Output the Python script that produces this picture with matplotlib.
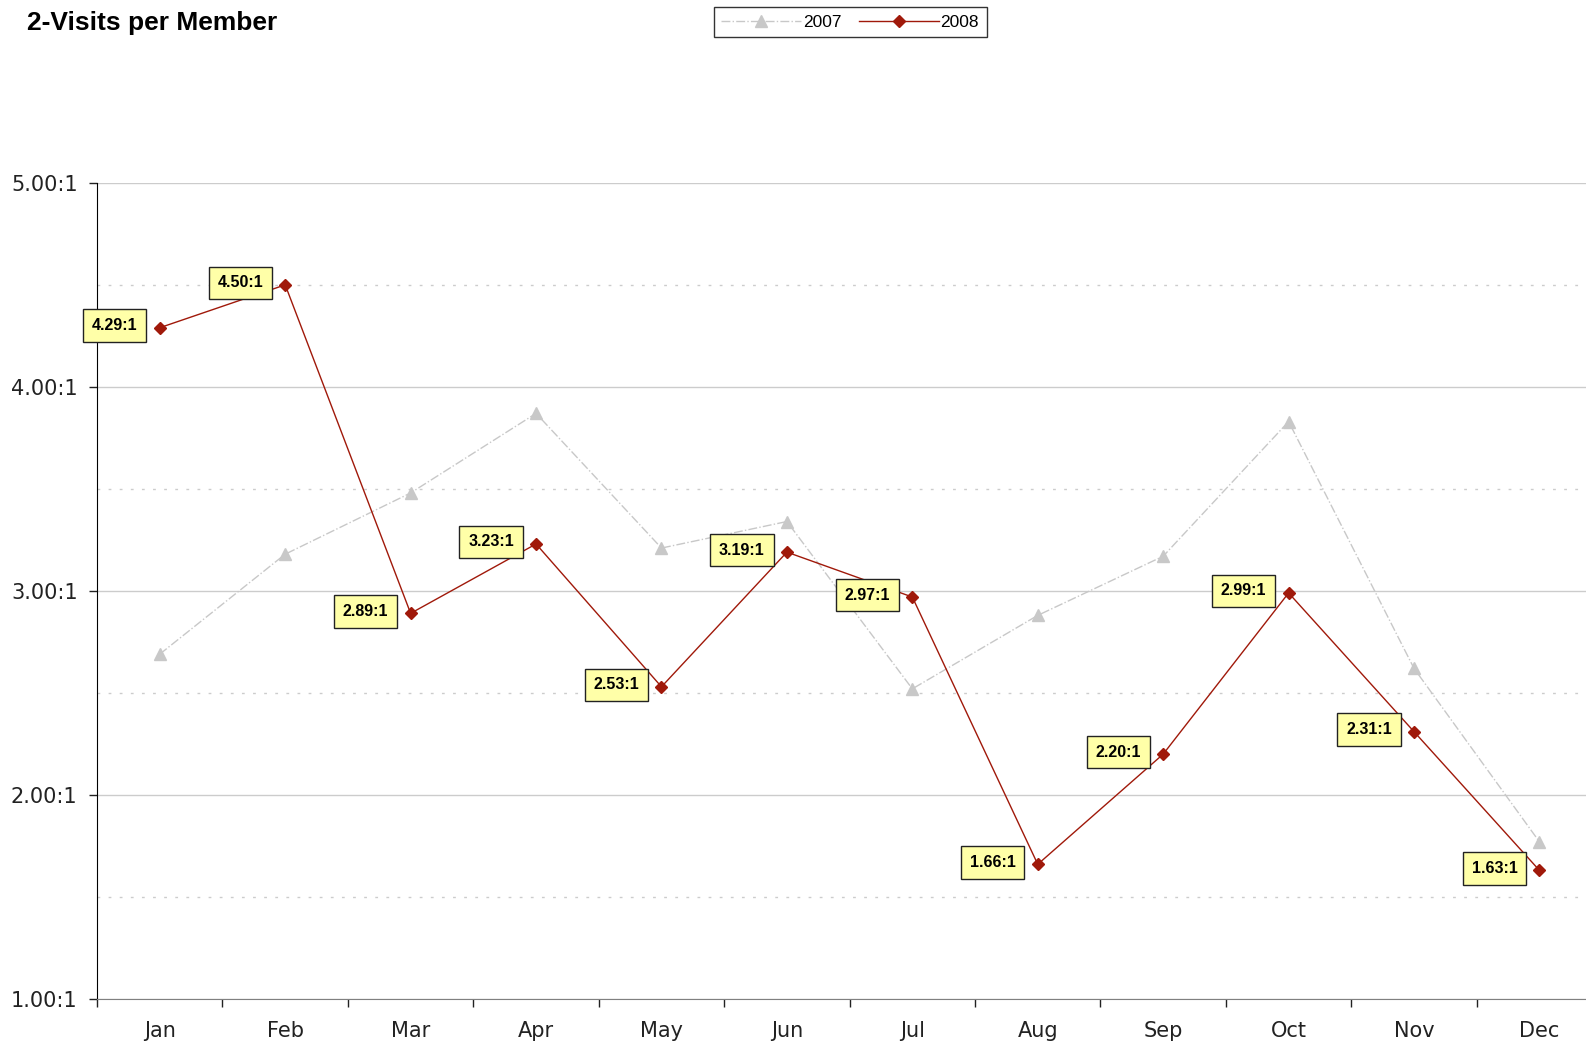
import matplotlib
matplotlib.use("Agg")
import matplotlib.pyplot as plt
from matplotlib.ticker import FixedLocator

months = ["Jan", "Feb", "Mar", "Apr", "May", "Jun", "Jul", "Aug", "Sep", "Oct", "Nov", "Dec"]
v2007 = [2.69, 3.18, 3.48, 3.87, 3.21, 3.34, 2.52, 2.88, 3.17, 3.83, 2.62, 1.77]
v2008 = [4.29, 4.50, 2.89, 3.23, 2.53, 3.19, 2.97, 1.66, 2.20, 2.99, 2.31, 1.63]
yticks = [1, 2, 3, 4, 5]
ytick_labels = ["1.00:1", "2.00:1", "3.00:1", "4.00:1", "5.00:1"]

fig = plt.figure(figsize=(15.86, 10.49), dpi=100)
ax = fig.add_axes([0.0612, 0.0477, 0.949, 0.778])

x = list(range(len(months)))
ax.plot(x, v2007, color="#C8C8C8", linestyle="-.", linewidth=1.0,
        marker="^", markersize=8, markerfacecolor="#C8C8C8", markeredgecolor="#C8C8C8",
        label="2007", zorder=3)
ax.plot(x, v2008, color="#A0190A", linestyle="-", linewidth=1.0,
        marker="D", markersize=6.5, markerfacecolor="#A0190A", markeredgecolor="#A0190A",
        label="2008", zorder=4)

for xi, v in zip(x, v2008):
    ax.annotate(f"{v:.2f}:1", xy=(xi, v), xytext=(-45, 2), textcoords="offset pixels",
                ha="center", va="center", fontsize=11.5, fontweight="bold",
                family="Liberation Sans",
                bbox=dict(boxstyle="square,pad=0.55", facecolor="#FFFFA8",
                          edgecolor="#222222", linewidth=1.0),
                zorder=6)

ax.set_xlim(-0.5, 11.5)
ax.set_ylim(1, 5)
ax.set_yticks(yticks)
ax.set_yticklabels(ytick_labels)
ax.yaxis.set_minor_locator(FixedLocator([1.5, 2.5, 3.5, 4.5]))
ax.grid(axis="y", which="major", color="#CCCCCC", linewidth=1.0, linestyle="-", zorder=0)
ax.grid(axis="y", which="minor", color="#CCCCCC", linewidth=1.0, linestyle=(0, (2, 6)), zorder=0)
ax.tick_params(axis="y", which="minor", length=0)
ax.tick_params(axis="y", which="major", length=6, width=1, pad=8, labelsize=15, color="#222222")

ax.set_xticks(x)
ax.set_xticklabels(months)
ax.xaxis.set_minor_locator(FixedLocator([i + 0.5 for i in range(-1, 12)]))
ax.tick_params(axis="x", which="major", length=0, pad=16, labelsize=15)
ax.tick_params(axis="x", which="minor", length=6, width=1, color="#222222")
for lab in ax.get_xticklabels() + ax.get_yticklabels():
    lab.set_color("#222222")

ax.spines["top"].set_visible(False)
ax.spines["right"].set_visible(False)
ax.spines["left"].set_color("#000000")
ax.spines["bottom"].set_color("#808080")
ax.set_axisbelow(True)

fig.text(0.017, 0.978, "2-Visits per Member", fontsize=19, fontweight="bold",
         family="Liberation Sans", ha="left", va="center")

leg = fig.legend(loc="center", bbox_to_anchor=(0.536, 0.979), ncol=2, frameon=True,
                 fancybox=False, edgecolor="#000000", handlelength=4.6,
                 columnspacing=1.0, handletextpad=0.1, borderpad=0.45,
                 prop={"family": "Liberation Sans", "size": 12.5})
leg.get_frame().set_linewidth(1.0)

fig.savefig("out.png", dpi=100)
